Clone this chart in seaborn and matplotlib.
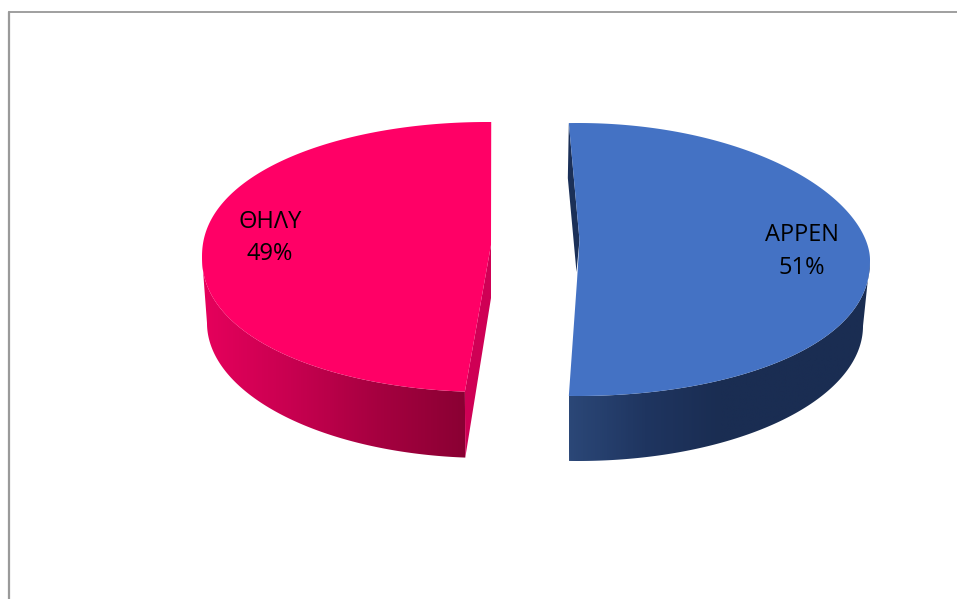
import numpy as np
import matplotlib
matplotlib.use('Agg')
import matplotlib.pyplot as plt
from matplotlib.colors import ListedColormap
from matplotlib.patches import Polygon
import seaborn as sns

# data
labels = ['ΘΗΛΥ', 'ΑΡΡΕΝ']
values = [49, 51]

sns.set_theme(style='white')
plt.rcParams['font.family'] = ['Open Sans', 'DejaVu Sans']

fig = plt.figure(figsize=(9.57, 5.99), dpi=100)
ax = fig.add_axes([0, 0, 1, 1])
ax.set_xlim(0, 957)
ax.set_ylim(599, 0)
ax.axis('off')

# frame of the slide
ax.plot([9, 957], [11.5, 11.5], color='#858585', lw=1.1, zorder=1)
ax.plot([9, 9], [11.5, 599], color='#9a9a9a', lw=1.6, zorder=1)


def arc(cx, cy, rx, ry, t0, t1, p_up=1.0, p_low=1.0, n=300):
    # angles are clockwise from 12 o'clock, p_up/p_low bend the ellipse a bit (perspective)
    t = np.radians(np.linspace(t0, t1, n))
    c = np.cos(t)
    c = np.where(c > 0, np.abs(c) ** p_up, -np.abs(c) ** p_low)
    return np.column_stack([cx + rx * np.sin(t), cy - ry * c])


def gradient_wall(pts, colors, zorder):
    # side of the slice, filled left to right with a blended palette
    cmap = ListedColormap(sns.blend_palette(colors, 128))
    x0, x1 = pts[:, 0].min(), pts[:, 0].max()
    y0, y1 = pts[:, 1].min(), pts[:, 1].max()
    im = ax.imshow(np.linspace(0, 1, 256)[None, :], cmap=cmap, aspect='auto',
                   extent=[x0, x1, y1, y0], zorder=zorder)
    poly = Polygon(pts, closed=True, transform=ax.transData, fc='none', ec='none')
    ax.add_patch(poly)
    im.set_clip_path(poly)


sweep = [v / sum(values) * 360 for v in values]

# --- left slice
start = 184.45
end = start + sweep[0]
top = arc(487, 257, 285, 135, start, end, 0.93, 0.93)
apex = (491, 245)
wall_top = arc(487, 257, 285, 135, start, 270, 0.93, 0.93)
wall_bot = arc(487, 323, 280, 135, start, 270)
gradient_wall(np.vstack([wall_top, wall_bot[::-1]]),
              ['#e6005c', '#c80050', '#a60040', '#8a0033'], 2)
inner = np.array([top[0], apex, (apex[0], apex[1] + 53), wall_bot[0]])
ax.add_patch(Polygon(inner, closed=True, fc='#cf0055', ec='none', zorder=3))
ax.add_patch(Polygon(np.vstack([top, apex]), closed=True, fc='#ff0066', ec='none', zorder=4))

# --- right slice
start = -1.8
end = start + sweep[1]
top = arc(578, 259.5, 292, 136.5, start, end, 1.1, 0.9)
apex = (577, 281)
bend = (579.5, 240)
wall_top = arc(578, 259.5, 292, 136.5, 90, end, 1.1, 0.9)
wall_bot = arc(578, 326, 285, 135, 90, end)
gradient_wall(np.vstack([wall_top, wall_bot[::-1]]),
              ['#1a2d52', '#1a2d52', '#1a2d52', '#1f3560', '#2b4777'][::-1], 2)
inner = np.array([top[0], (top[0][0] - 1, top[0][1] + 55), (576.5, 272), bend])
ax.add_patch(Polygon(inner, closed=True, fc='#1b3058', ec='none', zorder=3))
ax.add_patch(Polygon(np.vstack([top, apex, bend]), closed=True, fc='#4472c4', ec='none', zorder=4))

# labels
ax.text(270, 222, labels[0], ha='center', va='center', fontsize=17, color='black', zorder=5)
ax.text(270, 254, f'{values[0]}%', ha='center', va='center', fontsize=17, color='black', zorder=5)
ax.text(802, 235, labels[1], ha='center', va='center', fontsize=17, color='black', zorder=5)
ax.text(802, 268, f'{values[1]}%', ha='center', va='center', fontsize=17, color='black', zorder=5)

ax.set_xlim(0, 957)
ax.set_ylim(599, 0)
fig.savefig('out.png', dpi=100)
